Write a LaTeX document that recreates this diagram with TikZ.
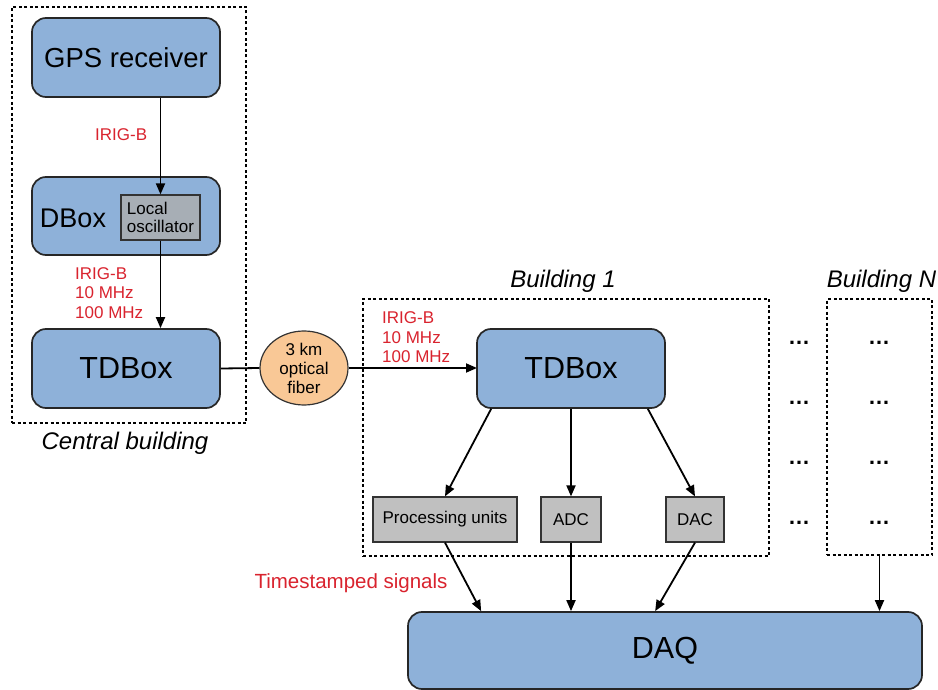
\documentclass[tikz,border=0pt]{standalone}
\usepackage{fontspec}
\setmainfont{Liberation Sans}
\usetikzlibrary{arrows.meta, positioning, shapes.geometric}

\definecolor{boxblue}{HTML}{8EB1D9}
\definecolor{oscgray}{HTML}{A7AEB5}
\definecolor{unitgray}{HTML}{C0C0C0}
\definecolor{fiberorange}{HTML}{F9C896}
\definecolor{sigred}{HTML}{D9232E}

\begin{document}
\begin{tikzpicture}[x=1pt, y=-1pt,
    bluebox/.style={draw=black!85, line width=1.7pt, fill=boxblue, rounded corners=14pt, inner sep=0pt},
    graybox/.style={draw=black!80, line width=1.2pt, inner sep=0pt, font=\fontsize{17}{18}\selectfont},
    bldbox/.style={draw, line width=1.5pt, dash pattern=on 3pt off 2.5pt, inner sep=0pt},
    sig/.style={text=sigred, font=\fontsize{17}{19.5}\selectfont, align=left, inner sep=0pt, anchor=west},
    conn/.style={line width=1.8pt, -{Triangle[length=11pt,width=9pt]}},
    title/.style={font=\fontsize{24}{28}\selectfont\itshape},
    dots/.style={font=\fontsize{22}{22}\selectfont\bfseries}]
    \useasboundingbox (0,0) rectangle (938,690);

    % Buildings
    \node[bldbox, minimum width=234pt, minimum height=416pt] (central) at (129,215) {};
    \node[bldbox, minimum width=406pt, minimum height=257pt] (bld1) at (566,427.5) {};
    \node[bldbox, minimum width=105pt, minimum height=256pt] (bldN) at (879.5,427) {};
    \node[title] (centraltitle) at (125,443) {Central building};
    \node[title] (bld1title) at (563,281) {Building 1};
    \node[title] (bldNtitle) at (881.5,281) {Building N};

    % Central building
    \node[bluebox, minimum width=188pt, minimum height=79pt, font=\fontsize{27.5}{30}\selectfont] (gps) at (126,57.5) {GPS receiver};
    \node[bluebox, minimum width=188pt, minimum height=78pt] (dbox) at (126,216) {};
    \node[font=\fontsize{27}{30}\selectfont] (dboxname) at (73,218) {DBox};
    \node[graybox, fill=oscgray, minimum width=79pt, minimum height=45pt, align=left] (osc) at (160.5,217.5) {Local\\oscillator};
    \node[bluebox, minimum width=188pt, minimum height=79pt, font=\fontsize{30.5}{32}\selectfont] (ctd) at (126,368.5) {TDBox};

    \draw[conn] (gps.south -| osc.north) -- (osc.north);
    \draw[conn] (osc.south) -- (osc.south |- ctd.north);
    \node[sig] (sig1) at (95,135) {IRIG-B};
    \node[sig] (sig2) at (75,293) {IRIG-B\\10 MHz\\100 MHz};

    % Fiber link
    \node[ellipse, draw=black!80, line width=1.2pt, fill=fiberorange, minimum width=88pt, minimum height=74pt,
          inner sep=0pt, align=center, font=\fontsize{17}{19}\selectfont] (fiber) at (304,368) {3 km\\optical\\fiber};
    \draw[line width=1.8pt] (ctd.east) -- (fiber.west);
    \draw[conn] (fiber.east) -- (fiber.east -| 477,0);
    \node[sig] (sig3) at (382,337.5) {IRIG-B\\10 MHz\\100 MHz};

    % Building 1
    \node[bluebox, minimum width=188pt, minimum height=79pt, font=\fontsize{30.5}{32}\selectfont] (tdb1) at (571,368.5) {TDBox};
    \node[graybox, fill=unitgray, minimum width=144pt, minimum height=45pt] (proc) at (445,519.5) {Processing units};
    \node[graybox, fill=unitgray, minimum width=60pt, minimum height=45pt] (adc) at (571,519.5) {ADC};
    \node[graybox, fill=unitgray, minimum width=58pt, minimum height=45pt] (dac) at (695,519.5) {DAC};
    \draw[conn] ([xshift=15pt]tdb1.south west) -- (proc.north);
    \draw[conn] (tdb1.south) -- (adc.north);
    \draw[conn] ([xshift=-18pt]tdb1.south east) -- (dac.north);

    % Other buildings
    \foreach \row/\y in {1/343, 2/403, 3/463, 4/523} {
        \node[dots] (gap\row) at (799,\y) {…};
        \node[dots] (far\row) at (879,\y) {…};
    }

    % DAQ
    \node[bluebox, minimum width=514pt, minimum height=77pt, font=\fontsize{30.5}{32}\selectfont] (daq) at (665,650.5) {DAQ};
    \draw[conn] (proc.south) -- ([xshift=74pt]daq.north west);
    \draw[conn] (adc.south) -- (adc.south |- daq.north);
    \draw[conn] (dac.south) -- ([xshift=248pt]daq.north west);
    \draw[conn] (bldN.south) -- (bldN.south |- daq.north);
    \node[text=sigred, font=\fontsize{20.5}{22}\selectfont] (stamp) at (351,583) {Timestamped signals};
\end{tikzpicture}
\end{document}
